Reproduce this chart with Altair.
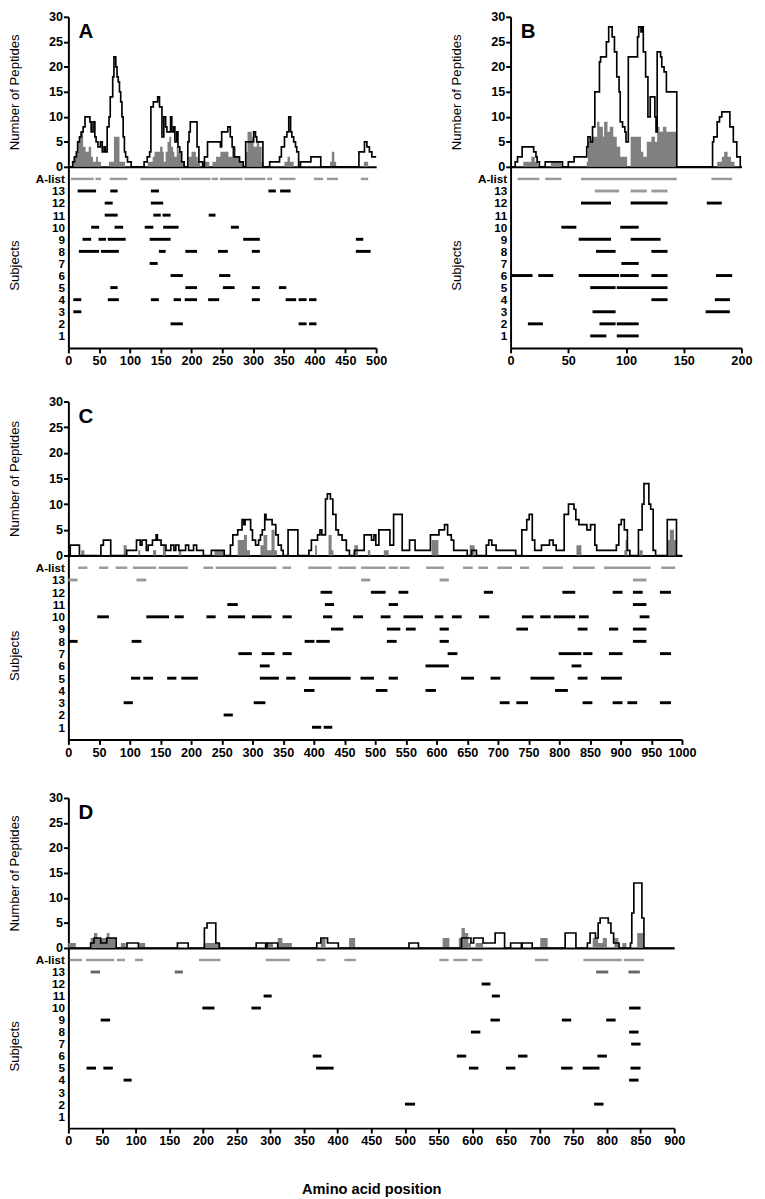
import altair as alt
import pandas as pd

FONT = "Liberation Sans"

# ---------------- Panel A ----------------
A_black = [(0,0),(7,1),(10,2),(13,3),(15,5),(18,6),(21,7),(24,8),(27,10),(35,9),(37,7),(40,9),(43,6),(45,5),(48,4),(52,5),(55,3),(58,4),(60,3),(63,8),(66,10),(68,14),(72,18),(74,22),(77,20),(79,18),(81,17),(83,15),(85,13),(87,10),(89,6),(91,3),(93,2),(96,1),(102,0),
           (123,1),(128,2),(132,3),(134,12),(138,13),(145,14),(148,12),(152,6),(155,10),(158,8),(160,7),(166,10),(168,7),(171,8),(173,5),(176,7),(178,4),(181,3),(184,1),(188,0),
           (194,5),(196,7),(198,9),(209,4),(212,1),(218,0),
           (221,2),(226,5),(247,4),(249,7),(259,8),(263,6),(266,4),(269,2),(278,1),(284,0),
           (288,5),(301,7),(304,6),(306,5),(316,0),(327,1),(343,2),(346,4),(351,6),(355,7),(358,10),(361,7),(363,6),(366,5),(369,4),(371,3),(374,0),(377,1),(394,2),(410,0),(472,3),(481,5),(485,4),(489,3),(493,2),(500,2)]
A_gray = [(0,0),(8,2),(12,3),(16,5),(19,7),(24,4),(28,3),(33,4),(37,2),(40,1),(45,2),(48,1),(53,0),(66,1),(74,6),(83,1),(92,0),
          (129,1),(137,2),(140,3),(149,4),(153,3),(155,1),(158,3),(161,5),(164,6),(167,4),(170,3),(172,2),(176,4),(179,3),(183,1),(189,0),(195,2),(200,3),(207,2),(210,1),(214,0),(218,1),(229,0),(234,1),(240,2),(247,3),(255,3),(260,2),(266,4),(272,2),(278,1),(284,0),(288,3),(291,7),(298,6),(301,4),(306,5),(310,4),(314,1),(317,0),(351,1),(356,2),(360,1),(366,0),(425,1),(428,3),(432,1),(435,0),(480,1),(487,0),(500,0)]
A_alist = [(4,41),(44,53),(67,96),(117,181),(183,231),(233,243),(246,283),(286,320),(323,331),(343,369),(399,414),(420,438),(475,487)]
A_seg = [(13,15,45),(13,68,80),(13,134,147),(13,325,337),(13,344,361),
         (12,59,72),(12,134,154),
         (11,59,80),(11,138,150),(11,153,166),(11,228,239),
         (10,37,50),(10,75,89),(10,124,138),(10,154,179),(10,264,277),
         (9,23,37),(9,49,61),(9,64,93),(9,132,166),(9,284,311),(9,467,479),
         (8,17,50),(8,53,82),(8,147,158),(8,190,209),(8,243,259),(8,298,311),(8,467,491),
         (7,132,145),
         (6,166,186),(6,245,263),
         (5,68,80),(5,190,209),(5,251,270),(5,298,311),(5,342,354),
         (4,8,21),(4,64,82),(4,134,147),(4,171,183),(4,189,209),(4,227,245),(4,298,311),(4,353,370),(4,374,387),(4,391,403),
         (3,8,21),
         (2,166,186),(2,374,387),(2,391,403)]

# ---------------- Panel B ----------------
B_black = [(0,0),(4,1),(6,2),(10,4),(20,3),(22,2),(23,1),(25,0),(30,1),(45,0),(50,1),(55,2),(66,4),(67,6),(69,5),(71,8),(73,15),(77,21),(78,22),(83,25),(85,28),(88,26),(90,23),(92,18),(94,15),(95,9),(97,8),(99,7),(100,5),(102,22),(110,26),(111,28),(113,27),(114,28),(115,23),(117,18),(119,10),(121,14),(125,10),(126,7),(127,23),(130,22),(131,20),(133,19),(135,15),(144,0),
           (175,5),(176,6),(179,9),(181,10),(183,11),(190,8),(193,5),(196,2),(199,0),(200,0)]
B_gray = [(0,0),(11,1),(18,2),(21,1),(24,0),(35,1),(44,0),(66,1),(67,5),(70,6),(75,9),(77,8),(80,6),(81,9),(84,7),(86,8),(89,6),(92,4),(95,2),(101,0),(104,6),(113,3),(115,2),(118,5),(122,6),(125,5),(127,8),(129,7),(132,8),(135,7),(144,0),(179,1),(183,2),(185,3),(188,2),(191,1),(194,0),(200,0)]
B_alist = [(6,25),(30,44),(61,144),(174,192)]
B_seg = [(13,73,94),(13,104,118),(13,122,136),
         (12,61,87),(12,104,136),(12,170,183),
         (10,44,57),(10,95,111),
         (9,59,87),(9,104,130),
         (8,74,91),(8,122,136),
         (7,96,111),
         (6,0,19),(6,24,37),(6,59,94),(6,95,111),(6,122,136),(6,178,192),
         (5,69,91),(5,92,136),
         (4,122,136),(4,177,190),
         (3,71,91),(3,169,190),
         (2,15,28),(2,77,91),(2,92,111),
         (1,69,83),(1,92,111)]

# ---------------- Panel C ----------------
C_black = [(0,0),(3,2),(18,0),(53,2),(57,3),(69,0),(95,1),(111,3),(117,2),(120,3),(127,1),(130,2),(137,3),(143,4),(145,3),(151,2),(159,1),(167,2),(172,1),(175,2),(180,1),(191,2),(196,1),(204,2),(209,1),(220,0),(233,1),(254,0),
           (264,2),(268,4),(276,5),(283,7),(286,6),(288,7),(297,5),(300,3),(305,2),(310,3),(313,4),(316,5),(320,8),(322,7),(332,6),(338,4),(342,2),(347,1),(350,0),(358,5),(374,0),
           (392,1),(396,3),(406,4),(410,5),(413,4),(419,11),(422,12),(427,11),(431,8),(436,5),(440,4),(446,3),(453,1),(458,0),(466,1),(482,4),(494,3),(498,4),(501,2),(506,5),(524,2),(530,8),(544,1),(556,3),(565,1),(590,4),(604,5),(613,6),(618,4),(624,3),(628,1),(650,0),(657,1),(665,0),(681,2),(685,3),(690,2),(697,1),(729,0),
           (739,5),(747,7),(751,8),(756,3),(760,1),(771,2),(784,3),(790,2),(795,1),(808,8),(815,10),(824,9),(827,7),(832,6),(845,5),(851,6),(858,2),(861,1),(893,2),(897,6),(901,7),(906,5),(911,1),(915,0),(929,5),(935,10),(938,14),(946,10),(949,9),(953,1),(957,0),(976,7),(991,0),(1000,0)]
C_gray = [(0,0),(21,1),(26,0),(90,2),(95,0),(114,1),(117,0),(138,1),(143,0),(154,2),(159,0),(180,1),(184,0),(238,1),(254,0),(276,3),(286,4),(291,1),(296,0),(313,2),(318,4),(324,1),(331,5),(336,1),(340,0),(402,2),(405,0),(424,4),(429,1),(432,0),(466,2),(472,0),(488,1),(492,0),(514,1),(522,0),(592,3),(603,0),(654,2),(662,0),(828,2),(836,0),(906,1),(908,3),(911,0),(931,1),(936,0),(976,3),(980,5),(987,3),(991,0),(1000,0)]
C_alist = [(16,31),(50,65),(77,96),(105,143),(147,195),(220,236),(240,339),(349,363),(391,429),(440,469),(477,517),(522,537),(540,556),(583,612),(643,659),(668,684),(699,723),(736,751),(773,806),(822,858),(873,949),(966,989)]
C_seg = [(13,0,15),(13,111,127),(13,477,492),(13,605,620),(13,920,942),
         (12,411,430),(12,493,517),(12,538,554),(12,677,692),(12,805,826),(12,887,903),(12,920,936),(12,964,982),
         (11,259,276),(11,418,433),(11,522,537),(11,920,942),
         (10,47,66),(10,127,164),(10,173,188),(10,225,240),(10,260,288),(10,299,331),(10,349,364),(10,415,430),(10,464,480),(10,509,525),(10,546,578),(10,597,611),(10,625,641),(10,669,686),(10,739,758),(10,769,786),(10,791,826),(10,832,848),(10,931,947),
         (9,428,448),(9,519,541),(9,550,566),(9,605,620),(9,730,749),(9,830,846),(9,881,896),(9,920,942),
         (8,0,15),(8,103,119),(8,385,401),(8,404,426),(8,519,535),(8,605,620),(8,920,942),
         (7,277,299),(7,315,336),(7,349,364),(7,618,634),(7,799,836),(7,839,854),(7,881,903),(7,964,982),
         (6,312,328),(6,582,620),(6,820,836),
         (5,102,117),(5,122,138),(5,161,176),(5,184,211),(5,312,343),(5,355,370),(5,392,460),(5,476,498),(5,522,537),(5,640,661),(5,688,704),(5,753,792),(5,830,846),(5,868,902),
         (4,384,401),(4,501,520),(4,582,599),(4,793,814),
         (3,90,105),(3,302,321),(3,703,719),(3,730,749),(3,838,854),(3,887,903),(3,911,927),(3,964,982),
         (2,253,268),
         (1,397,412),(1,416,430)]

# ---------------- Panel D ----------------
D_black = [(0,0),(33,1),(38,2),(48,1),(57,2),(71,0),(87,1),(104,0),(162,1),(178,0),(202,4),(206,5),(219,1),(224,0),(279,1),(293,0),(295,1),(311,0),(369,1),(375,2),(385,1),(401,0),(506,1),(520,0),
           (584,2),(598,1),(602,2),(616,1),(634,3),(648,0),(657,1),(673,0),(674,1),(689,0),(738,3),(754,0),(771,1),(775,3),(783,2),(787,5),(790,6),(802,5),(806,3),(810,1),(818,0),(835,1),(837,7),(840,13),(852,6),(855,0),(900,0)]
D_gray = [(0,1),(11,0),(33,2),(38,3),(43,2),(57,3),(61,2),(70,0),(78,1),(85,0),(105,1),(114,0),(201,1),(226,0),(293,1),(304,0),(311,2),(318,1),(332,0),(375,2),(382,0),(417,2),(426,0),(556,2),(566,0),(580,2),(584,4),(589,3),(594,1),(598,0),(605,1),(616,0),(701,2),(712,0),(779,2),(787,1),(794,2),(800,0),(811,2),(817,0),(823,1),(829,0),(845,3),(854,0),(900,0)]
D_alist = [(2,20),(26,68),(72,84),(99,111),(194,226),(293,329),(369,382),(410,427),(551,565),(572,593),(600,615),(693,713),(765,822),(825,855)]
D_seg = [(13,33,47),(13,158,170),(13,784,802),(13,832,849),
         (12,614,627),
         (11,290,302),(11,629,641),
         (10,199,217),(10,272,286),(10,833,850),
         (9,48,62),(9,627,641),(9,733,747),(9,799,813),
         (8,598,612),(8,833,847),
         (7,836,850),
         (6,363,376),(6,577,591),(6,668,682),(6,786,800),
         (5,27,41),(5,52,66),(5,368,394),(5,595,609),(5,650,664),(5,732,749),(5,764,789),(5,835,850),
         (4,82,94),(4,833,847),
         (2,500,515),(2,781,795)]

ALIST_COLOR = "#9a9a9a"
GRAY_FILL = "#808080"
TITLE_X = -55


def profile(black, gray, xmax, width, height, letter):
    xenc = alt.X("pos:Q", scale=alt.Scale(domain=[0, xmax], nice=False, zero=False),
                 axis=alt.Axis(title=None, labels=False, ticks=False, domainWidth=2, domainColor="black"))
    yenc = alt.Y("val:Q", scale=alt.Scale(domain=[0, 30], nice=False),
                 axis=alt.Axis(values=[0, 5, 10, 15, 20, 25, 30], format="d", title="Number of Peptides",
                               titleFontWeight="normal", titleFontSize=13.5, titleX=TITLE_X,
                               titleBaseline="middle", tickSize=5, tickWidth=2, domainWidth=2,
                               labelPadding=1, labelOverlap=False))
    area = alt.Chart(pd.DataFrame(gray, columns=["pos", "val"])).mark_area(
        interpolate="step-after", color=GRAY_FILL).encode(x=xenc, y=yenc)
    line = alt.Chart(pd.DataFrame(black, columns=["pos", "val"])).mark_line(
        interpolate="step-after", color="black", strokeWidth=1.7).encode(x=xenc, y=yenc)
    txt = alt.Chart(pd.DataFrame({"t": [letter]})).mark_text(
        font=FONT, fontSize=21, fontWeight="bold", align="center", baseline="middle", color="black"
    ).encode(text="t:N", x=alt.value(18), y=alt.value(16))
    return alt.layer(area, line, txt).properties(width=width, height=height)


def subjects(alist, segs, xmax, width, height, c13, xtitle=None):
    rows = [dict(row=14, start=s, end=e, col=ALIST_COLOR, sw=2.5) for s, e in alist]
    rows += [dict(row=r, start=s, end=e, col=(c13 if r == 13 else "black"), sw=3) for r, s, e in segs]
    df = pd.DataFrame(rows)
    xaxis = dict(values=list(range(0, xmax + 1, 50)), format="d", tickSize=5, tickWidth=2,
                 domainWidth=2, labelPadding=2, labelFlush=False, labelOverlap=False)
    if xtitle:
        xaxis.update(title=xtitle, titleFontSize=15, titleFontWeight="bold", titlePadding=35)
    else:
        xaxis.update(title=None)
    return alt.Chart(df).mark_rule().encode(
        x=alt.X("start:Q", scale=alt.Scale(domain=[0, xmax], nice=False, zero=False), axis=alt.Axis(**xaxis)),
        x2="end:Q",
        y=alt.Y("row:Q", scale=alt.Scale(domain=[0, 15], nice=False, zero=False),
                axis=alt.Axis(values=list(range(1, 15)), labelExpr="datum.value == 14 ? 'A-list' : datum.label",
                              ticks=False, domainWidth=2, labelPadding=4, labelOverlap=False,
                              labelFontSize=12,
                              title="Subjects", titleFontWeight="normal", titleFontSize=13.5,
                              titleX=TITLE_X, titleBaseline="middle", titleY=height / 2 + 8)),
        color=alt.Color("col:N", scale=None),
        strokeWidth=alt.StrokeWidth("sw:Q", scale=None),
    ).properties(width=width, height=height)


def panel(black, gray, alist, segs, xmax, width, htop, hbot, letter, c13, xtitle=None):
    return alt.vconcat(profile(black, gray, xmax, width, htop, letter),
                       subjects(alist, segs, xmax, width, hbot, c13, xtitle),
                       spacing=0, bounds="flush")


pA = panel(A_black, A_gray, A_alist, A_seg, 500, 316, 154, 186, "A", "black")
pB = panel(B_black, B_gray, B_alist, B_seg, 200, 237, 154, 186, "B", ALIST_COLOR)
pC = panel(C_black, C_gray, C_alist, C_seg, 1000, 630, 158, 189, "C", ALIST_COLOR)
pD = panel(D_black, D_gray, D_alist, D_seg, 900, 622, 154, 185, "D", "#666666", "Amino acid position")

chart = alt.vconcat(
    alt.hconcat(pA, pB, spacing=65),
    alt.vconcat(pC, pD, spacing=34),
    spacing=29,
).properties(
    padding={"left": 0, "top": -13, "right": 5, "bottom": 0}
).configure_view(stroke=None).configure_axis(
    labelFont=FONT, titleFont=FONT, labelFontWeight="bold", labelFontSize=13,
    labelColor="black", titleColor="black", domainColor="black", tickColor="black", grid=False
)

chart.save("out.html", embed_options={"renderer": "svg", "actions": False})
